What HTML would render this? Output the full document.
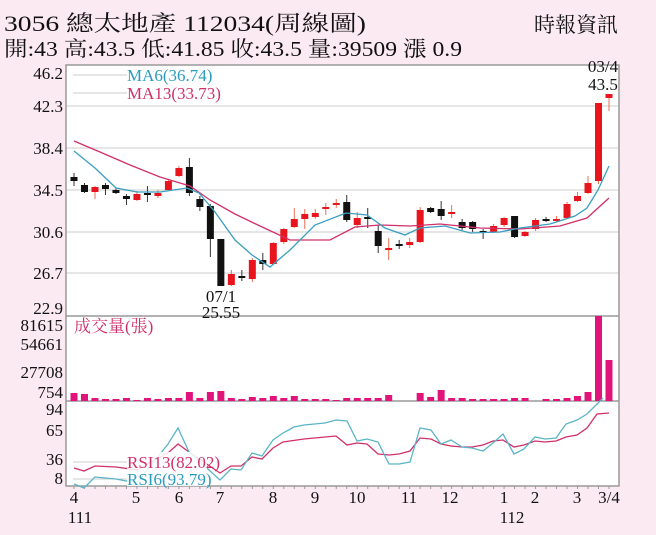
<!DOCTYPE html>
<html><head><meta charset="utf-8"><style>
body{margin:0;background:#fbeaf2;}
svg{display:block;font-family:"Liberation Serif","Noto Serif CJK SC",serif;}
</style></head><body>
<svg id="s" width="656" height="535" xmlns="http://www.w3.org/2000/svg">
<rect width="656" height="535" fill="#fbeaf2"/>
<text x="4" y="31" font-size="22" fill="#111" textLength="362" lengthAdjust="spacingAndGlyphs">3056  總太地產 112034(周線圖)</text>
<text x="4" y="56" font-size="21" fill="#111" textLength="458" lengthAdjust="spacingAndGlyphs">開:43 高:43.5 低:41.85 收:43.5 量:39509 漲 0.9</text>
<text x="618" y="32" font-size="21" fill="#111" text-anchor="end">時報資訊</text>
<rect x="66" y="65" width="553" height="421" fill="#fff"/>
<g stroke="#ddd" stroke-width="1.5">
<line x1="66" x2="619" y1="106" y2="106"/><line x1="66" x2="619" y1="148" y2="148"/>
<line x1="66" x2="619" y1="190" y2="190"/><line x1="66" x2="619" y1="232" y2="232"/>
<line x1="66" x2="619" y1="273" y2="273"/>
</g>
<g stroke="#999" stroke-width="1.5" fill="none">
<rect x="66" y="65" width="553" height="421"/>
<line x1="66" x2="619" y1="316" y2="316"/><line x1="66" x2="619" y1="401" y2="401"/>
</g>
<g font-size="17" fill="#111" text-anchor="end">
<text x="63" y="79">46.2</text><text x="63" y="112">42.3</text><text x="63" y="154">38.4</text>
<text x="63" y="196">34.5</text><text x="63" y="238">30.6</text><text x="63" y="279">26.7</text>
<text x="63" y="314">22.9</text>
<text x="63" y="331">81615</text><text x="63" y="350">54661</text><text x="63" y="378">27708</text><text x="63" y="398">754</text>
<text x="63" y="415">94</text><text x="63" y="436">65</text><text x="63" y="465">36</text><text x="63" y="484">8</text>
</g>
<g stroke="#ccc"><line x1="73" x2="127" y1="75" y2="75"/><line x1="73" x2="127" y1="93" y2="93"/>
<line x1="73" x2="127" y1="462" y2="462"/><line x1="73" x2="127" y1="479" y2="479"/></g>
<text x="127" y="81" font-size="17" fill="#2a9bc0">MA6(36.74)</text>
<text x="127" y="99" font-size="17" fill="#d0306a">MA13(33.73)</text>
<text x="74" y="332" font-size="17" fill="#d0306a">成交量(張)</text>
<g id="c"></g>
<text x="221" y="302" font-size="17" fill="#111" text-anchor="middle">07/1</text>
<text x="221" y="318" font-size="17" fill="#111" text-anchor="middle">25.55</text>
<text x="603" y="72" font-size="17" fill="#111" text-anchor="middle">03/4</text>
<text x="603" y="90" font-size="17" fill="#111" text-anchor="middle">43.5</text>
<polyline fill="none" stroke="#d0306a" stroke-width="1.3" points="74,141 100,152 130,165 160,177 190,186 210,200 235,214 260,226 290,240 330,240 355,227 380,225 410,226 440,224 480,228 520,229 560,226 587,218 609,198"/>
<polyline fill="none" stroke="#3a9fbf" stroke-width="1.3" points="74,151 95,168 116,188 137,192 160,192 187,188 199,193 215,212 235,240 252,255 270,267 290,250 315,225 346,213 367,215 385,228 405,235 420,228 445,226 470,233 500,232 520,228 550,224 575,216 587,208 598,190 609,166"/>
<polyline fill="none" stroke="#d0306a" stroke-width="1.3" points="74,468 84,471 95,466 116,467 137,470 168,453 178,444 189,452 220,473 231,466 241,466 252,457 262,459 273,448 283,442 304,439 325,437 336,436 347,445 357,443 367,444 378,454 389,455 399,454 410,451 420,438 431,439 441,444 451,446 462,447 472,447 483,445 493,441 503,440 514,447 524,445 535,441 545,442 556,441 566,437 577,435 587,428 597,414 609,413"/>
<polyline fill="none" stroke="#5ab5c8" stroke-width="1.3" points="74,484 84,488 95,477 116,479 137,483 168,444 178,428 189,452 220,480 231,469 241,470 252,453 262,456 273,440 283,433 294,427 304,425 325,423 336,420 347,421 357,441 367,439 378,442 389,464 399,464 410,462 420,428 431,430 441,444 451,440 462,447 472,448 483,451 493,443 503,434 514,454 524,449 535,437 545,439 556,438 566,424 577,420 587,414 597,404 603,398"/>
<rect x="127" y="452" width="80" height="34" fill="#fff" opacity="0.85"/>
<text x="127" y="468" font-size="17" fill="#d0306a">RSI13(82.02)</text>
<text x="127" y="485" font-size="17" fill="#2a9bc0">RSI6(93.79)</text>
<g font-size="17" fill="#111" text-anchor="middle">
<text x="74" y="503">4</text><text x="80" y="523">111</text><text x="136" y="503">5</text><text x="179" y="503">6</text>
<text x="220" y="503">7</text><text x="273" y="503">8</text><text x="315" y="503">9</text><text x="357" y="503">10</text>
<text x="409" y="503">11</text><text x="450" y="503">12</text><text x="504" y="503">1</text><text x="512" y="523">112</text>
<text x="535" y="503">2</text><text x="577" y="503">3</text><text x="609" y="503">3/4</text>
</g>
</svg>
<script>
var d=[[177,181,173,186,0],[185,192,183,193,0],[187,192,186,199,1],[185,189,183,195,0],[190,193,188,194,0],[196,199,194,205,0],[194,200,191,201,1],[193,194,186,202,0],[193,196,190,198,1],[181,190,180,191,1],[168,176,166,177,1],[167,193,158,196,0],[199,207,196,211,0],[206,239,204,257,0],[239,286,239,286,0],[274,285,270,286,1],[276,278,270,281,0],[260,279,258,282,1],[260,264,253,270,0],[243,264,242,265,1],[229,242,228,244,1],[219,227,208,228,1],[214,219,209,229,1],[213,217,209,219,1],[207,209,203,215,1],[203,205,199,208,1],[202,220,195,222,0],[218,225,212,228,1],[217,219,208,228,0],[231,246,225,253,0],[248,249,238,260,1],[244,246,240,249,0],[242,245,238,248,1],[210,242,207,243,1],[208,212,207,213,0],[209,216,201,220,0],[212,214,205,218,1],[222,228,219,230,0],[222,229,221,232,0],[231,232,229,239,0],[226,232,224,233,1],[218,225,217,227,1],[216,237,216,238,0],[232,236,231,237,1],[220,229,218,231,1],[219,221,217,222,0],[219,221,216,222,1],[204,218,202,219,1],[196,201,192,202,1],[183,193,176,194,1],[103,181,103,184,1],[94,98,94,111,1]];
var v=[393,394,398,399,399,398,400,398,399,398,398,392,398,392,391,398,399,397,398,396,398,396,399,399,399,400,398,398,398,398,395,401,401,393,397,390,398,398,399,399,399,399,398,398,401,399,399,400,397,396,392,316];
v[51]=360;v[50]=316;v[49]=392;v[48]=396;v[47]=398;
var s='';
for(var i=0;i<52;i++){var x=74+i*10.49,a=d[i],c=a[4]?'#e8141e':'#111';
s+='<line x1="'+x+'" x2="'+x+'" y1="'+a[2]+'" y2="'+a[3]+'" stroke="'+(a[4]?'#e87050':'#333')+'" stroke-width="1"/>';
var h=Math.max(a[1]-a[0],2);s+='<rect x="'+(x-3.5)+'" y="'+a[0]+'" width="7" height="'+h+'" fill="'+c+'"/>';
s+='<rect x="'+(x-3.5)+'" y="'+v[i]+'" width="7" height="'+(401-v[i])+'" fill="#e0147a"/>';
s+='<line x1="'+x+'" x2="'+x+'" y1="486" y2="489" stroke="#999"/>';}
document.getElementById('c').innerHTML=s;
</script>
</body></html>
